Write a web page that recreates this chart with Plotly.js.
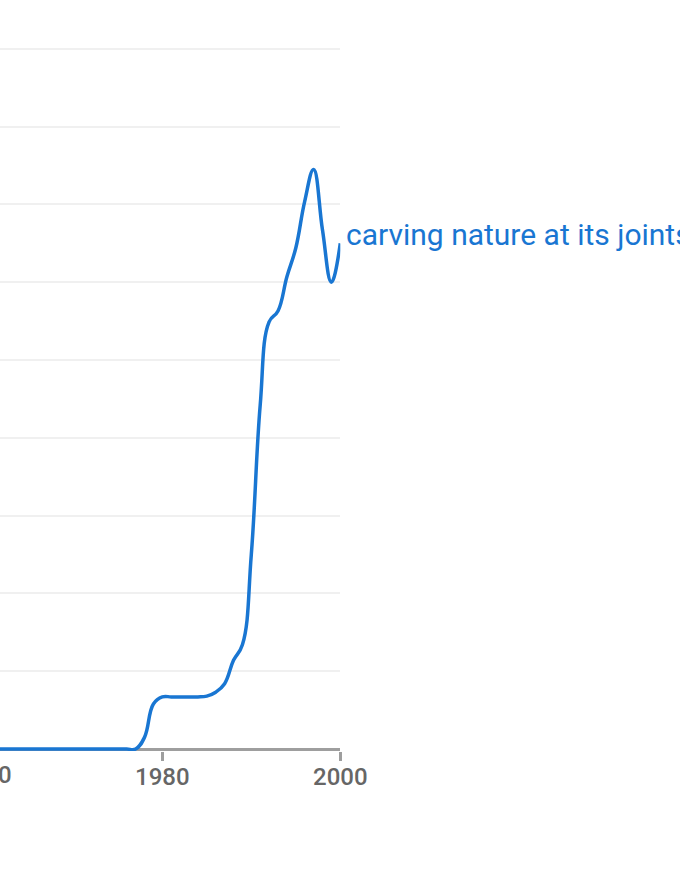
<!DOCTYPE html>
<html>
<head>
<meta charset="utf-8">
<script src="https://cdn.plot.ly/plotly-3.0.1.min.js"></script>
<style>html,body{margin:0;padding:0;background:#fff;}#chart{width:680px;height:876px;}</style>
</head>
<body>
<div id="chart"></div>
<script>
const years = [1960,1961,1962,1963,1964,1965,1966,1967,1968,1969,1970,1971,1972,1973,1974,1975,1976,1977,1978,1979,1980,1981,1982,1983,1984,1985,1986,1987,1988,1989,1990,1991,1992,1993,1994,1995,1996,1997,1998,1999,2000];
const values = [0,0,0,0,0,0,0,0,0,0,0,0,0,0,0,0,0,0,0.15,0.58,0.67,0.67,0.67,0.67,0.67,0.68,0.73,0.84,1.14,1.34,2.50,4.42,5.49,5.63,6.07,6.44,7.04,7.45,6.67,6.00,6.50];
const seriesName = "carving nature at its joints";
const tickYears = [1960, 1980, 2000];
const tickLabels = ["1960", "1980", "2000"];

const blue = "#1976d2";
const W = 680, H = 876;
const plotRight = 340.3;
const xLeft = 1980 - 162.3 / 8.9;
const plotTop = 40.5, plotBottom = 751.45;

const trace = {
  x: years, y: values, type: "scatter", mode: "lines",
  line: {color: blue, width: 3.5, shape: "spline", smoothing: 1.2},
  hoverinfo: "skip", showlegend: false
};

const layout = {
  width: W, height: H,
  margin: {l: 0, r: 0, t: plotTop, b: H - plotBottom, pad: 0},
  paper_bgcolor: "#fff", plot_bgcolor: "#fff",
  showlegend: false,
  xaxis: {
    domain: [0, plotRight / W],
    range: [xLeft, 2000],
    tickmode: "array", tickvals: tickYears, ticktext: tickLabels,
    ticks: "outside", ticklen: 9, tickwidth: 2.5, tickcolor: "#9e9e9e",
    ticklabelstandoff: -5,
    showgrid: false, zeroline: false, showline: false,
    tickfont: {family: "Roboto", size: 24, color: "#666666", weight: 500},
    layer: "below traces", fixedrange: true
  },
  yaxis: {
    range: [-0.025, 9.1],
    tickmode: "linear", tick0: 0, dtick: 1,
    showticklabels: false, ticks: "",
    showgrid: true, gridcolor: "#f0f0f0", gridwidth: 2,
    zeroline: true, zerolinecolor: "#9e9e9e", zerolinewidth: 3,
    showline: false, fixedrange: true
  },
  annotations: [
    {
      xref: "x", yref: "y", x: years[years.length - 1], y: values[values.length - 1],
      text: seriesName, showarrow: false, xanchor: "left", yanchor: "middle",
      xshift: 4, yshift: 9,
      font: {family: "Roboto", size: 30, color: blue}
    },
    {
      xref: "paper", yref: "paper", x: (-15.7) / W, y: (plotBottom - 775.3) / (plotBottom - plotTop),
      text: tickLabels[0], showarrow: false, xanchor: "center", yanchor: "middle",
      font: {family: "Roboto", size: 24, color: "#666666", weight: 500}
    }
  ]
};

Plotly.newPlot("chart", [trace], layout, {displayModeBar: false, staticPlot: true});
</script>
</body>
</html>
